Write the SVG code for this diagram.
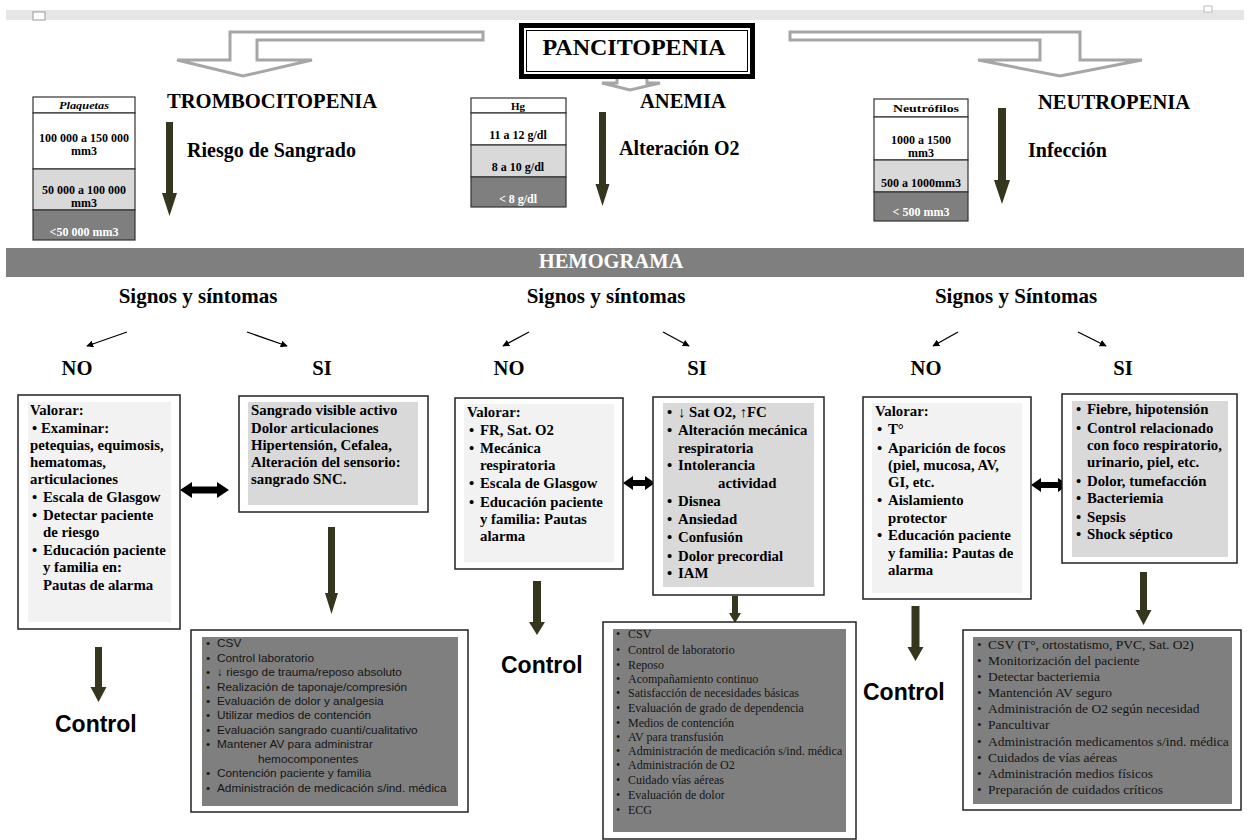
<svg xmlns="http://www.w3.org/2000/svg" width="1250" height="840" viewBox="0 0 1250 840">
<style>
.s{font-family:"Liberation Serif","Times New Roman",serif;font-weight:bold;fill:#000}
.h{font-size:20.6px}
.sub{font-size:20px}
.sg{font-size:21px}
.t{font-size:12px;text-anchor:middle}
.th{font-size:11px;text-anchor:middle}
.it{font-style:italic}
.w{fill:#fff}
.b{font-size:14.8px}
.c{font-family:"Liberation Sans",Arial,sans-serif;font-weight:bold;font-size:23px}
.l1{font-family:"Liberation Sans",Arial,sans-serif;font-size:11.8px;fill:#151515}
.l2{font-family:"Liberation Serif","Times New Roman",serif;font-size:12px;fill:#151515}
.l3{font-family:"Liberation Serif","Times New Roman",serif;font-size:13.5px;fill:#151515}
.box{fill:#fff;stroke:#222;stroke-width:1.5}
.lf{fill:#f2f2f2}
.mf{fill:#d9d9d9}
.df{fill:#7f7f7f}
.hol{fill:#fff;stroke:#a6a6a6;stroke-width:3;stroke-linejoin:miter}
.dk{fill:#36361e}
.dbl{fill:#000}
.thin{stroke:#000;stroke-width:1.3;fill:none;marker-end:url(#ah)}
.cell{stroke:#333;stroke-width:1.2}
</style>
<defs>
<marker id="ah" viewBox="0 0 10 10" refX="9" refY="5" markerWidth="7" markerHeight="7" orient="auto" markerUnits="userSpaceOnUse"><path d="M0,0 L10,5 L0,10 Z" fill="#000"/></marker>
</defs>

<rect x="6" y="10" width="1238" height="10" fill="#e6e6e6"/>
<rect x="33" y="12" width="12" height="8" fill="#fff" stroke="#999" stroke-width="1"/>
<rect x="1204" y="6" width="8" height="6" fill="#fff" stroke="#bbb" stroke-width="1"/>

<g id="connectors">
<path class="hol" d="M483,32 L230,32 L230,60 L177,60 L243,76 L312,60 L257,60 L257,40 L483,40 Z"/>
<path class="hol" d="M790,32 L1080,32 L1080,60 L1142,60 L1060,76 L978,60 L1040,60 L1040,40 L790,40 Z"/>
<path class="hol" d="M617,72 L647,72 L647,83 L660,83 L630,90 L602,83 L617,83 Z"/>
<path class="dk" d="M166,122 L173,122 L173,193 L177,193 L169.5,216 L162,193 L166,193 Z"/>
<path class="dk" d="M599,112 L606,112 L606,184 L609.5,184 L602.5,206 L595.5,184 L599,184 Z"/>
<path class="dk" d="M998,108 L1006,108 L1006,180 L1010,180 L1002,204 L994,180 L998,180 Z"/>
<line class="thin" x1="127" y1="332" x2="87" y2="346"/>
<line class="thin" x1="247" y1="332" x2="287" y2="346"/>
<line class="thin" x1="529" y1="332" x2="503" y2="346"/>
<line class="thin" x1="663" y1="332" x2="689" y2="346"/>
<line class="thin" x1="958" y1="332" x2="933" y2="346"/>
<line class="thin" x1="1078" y1="332" x2="1106" y2="346"/>
<path class="dbl" d="M180,490 L192,482 L192,486.5 L217,486.5 L217,482 L229,490 L217,498 L217,493.5 L192,493.5 L192,498 Z"/>
<path class="dbl" d="M623,483 L633,476 L633,480 L645,480 L645,476 L655,483 L645,490 L645,486 L633,486 L633,490 Z"/>
<path class="dbl" d="M1031,485 L1041,478 L1041,482 L1058,482 L1058,478 L1068,485 L1058,492 L1058,488 L1041,488 L1041,492 Z"/>
<path class="dk" d="M328,527 L335,527 L335,593 L338,593 L331.5,614 L325,593 L328,593 Z"/>
<path class="dk" d="M95,647 L102,647 L102,687 L106.5,687 L98.5,702 L90.5,687 L95,687 Z"/>
<path class="dk" d="M533,581 L541,581 L541,622 L545,622 L537,635 L529,622 L533,622 Z"/>
<path class="dk" d="M732,596 L738,596 L738,613 L741,613 L735,623 L729,613 L732,613 Z"/>
<path class="dk" d="M911.5,606 L919.5,606 L919.5,647 L923.5,647 L915.5,661 L907.5,647 L911.5,647 Z"/>
<path class="dk" d="M1140,572 L1147,572 L1147,610 L1151.5,610 L1143.5,625 L1135.5,610 L1140,610 Z"/>
</g>

<g id="pancitopenia">
<rect x="521.5" y="25.5" width="231" height="51" fill="#fff" stroke="#000" stroke-width="5"/>
<rect x="526.5" y="30.5" width="221" height="41" fill="none" stroke="#000" stroke-width="1"/>
<text class="s" x="634" y="55" font-size="24" text-anchor="middle">PANCITOPENIA</text>
</g>

<g id="trombocitopenia">
<text class="s h" x="167" y="108">TROMBOCITOPENIA</text>
<text class="s sub" x="187" y="157" font-size="20.8">Riesgo de Sangrado</text>
</g>
<g id="anemia">
<text class="s h" x="640" y="108">ANEMIA</text>
<text class="s sub" x="619" y="155" font-weight="normal">Alteración O2</text>
</g>
<g id="neutropenia">
<text class="s h" x="1038" y="109">NEUTROPENIA</text>
<text class="s sub" x="1028" y="157">Infección</text>
</g>

<g id="tabla-plaquetas">
<rect class="cell" x="33" y="97" width="102" height="16" fill="#fff"/>
<rect class="cell" x="33" y="113" width="102" height="56" fill="#fff"/>
<rect class="cell" x="33" y="169" width="102" height="41" fill="#d9d9d9"/>
<rect class="cell" x="33" y="210" width="102" height="30" fill="#7f7f7f"/>
<text class="s th it" x="84" y="109" textLength="50" lengthAdjust="spacingAndGlyphs">Plaquetas</text>
<text class="s t" x="84" y="142">100 000 a 150 000</text>
<text class="s t" x="84" y="155">mm3</text>
<text class="s t" x="84" y="194">50 000 a 100 000</text>
<text class="s t" x="84" y="207">mm3</text>
<text class="s t w" x="84" y="236">&lt;50 000 mm3</text>
</g>
<g id="tabla-hg">
<rect class="cell" x="471" y="98" width="95" height="15" fill="#fff"/>
<rect class="cell" x="471" y="113" width="95" height="32" fill="#fff"/>
<rect class="cell" x="471" y="145" width="95" height="32" fill="#d9d9d9"/>
<rect class="cell" x="471" y="177" width="95" height="30" fill="#7f7f7f"/>
<text class="s th" x="518" y="110">Hg</text>
<text class="s t" x="518" y="139">11 a 12 g/dl</text>
<text class="s t" x="518" y="171">8 a 10 g/dl</text>
<text class="s t w" x="518" y="203">&lt; 8 g/dl</text>
</g>
<g id="tabla-neutrofilos">
<rect class="cell" x="874" y="99" width="94" height="18" fill="#fff"/>
<rect class="cell" x="874" y="117" width="94" height="43" fill="#fff"/>
<rect class="cell" x="874" y="160" width="94" height="32" fill="#d9d9d9"/>
<rect class="cell" x="874" y="192" width="94" height="29" fill="#7f7f7f"/>
<text class="s th" x="926" y="112" textLength="66" lengthAdjust="spacingAndGlyphs">Neutrófilos</text>
<text class="s t" x="921" y="144">1000 a 1500</text>
<text class="s t" x="921" y="157">mm3</text>
<text class="s t" x="921" y="187">500 a 1000mm3</text>
<text class="s t w" x="921" y="216">&lt; 500 mm3</text>
</g>

<g id="hemograma">
<rect x="6" y="248" width="1238" height="29" fill="#7f7f7f"/>
<text class="s w" x="611" y="268" font-size="20.5" text-anchor="middle">HEMOGRAMA</text>
</g>

<g id="signos">
<text class="s sg" x="198" y="303" text-anchor="middle">Signos y síntomas</text>
<text class="s sg" x="606" y="303" text-anchor="middle">Signos y síntomas</text>
<text class="s sg" x="1016" y="303" text-anchor="middle">Signos y Síntomas</text>
<text class="s h" x="77" y="375" text-anchor="middle">NO</text>
<text class="s h" x="322" y="375" text-anchor="middle">SI</text>
<text class="s h" x="509" y="375" text-anchor="middle">NO</text>
<text class="s h" x="697" y="375" text-anchor="middle">SI</text>
<text class="s h" x="926" y="375" text-anchor="middle">NO</text>
<text class="s h" x="1123" y="375" text-anchor="middle">SI</text>
</g>

<g id="no-trombo">
<rect class="box" x="18" y="395" width="162" height="234"/>
<rect class="lf" x="28" y="402" width="143" height="220"/>
<text class="s b" x="30" y="415">Valorar:</text>
<text class="s b" x="32" y="433">• Examinar:</text>
<text class="s b" x="30" y="450">petequias, equimosis,</text>
<text class="s b" x="30" y="467">hematomas,</text>
<text class="s b" x="30" y="484">articulaciones</text>
<text class="s b" x="32" y="502">•</text><text class="s b" x="43" y="502">Escala de Glasgow</text>
<text class="s b" x="32" y="520">•</text><text class="s b" x="43" y="520">Detectar paciente</text>
<text class="s b" x="43" y="537">de riesgo</text>
<text class="s b" x="32" y="555">•</text><text class="s b" x="43" y="555">Educación paciente</text>
<text class="s b" x="43" y="572">y familia en:</text>
<text class="s b" x="43" y="590">Pautas de alarma</text>
</g>

<g id="si-trombo">
<rect class="box" x="239" y="396" width="189" height="116"/>
<rect class="mf" x="248" y="402" width="170" height="103"/>
<text class="s b" x="251" y="415">Sangrado visible activo</text>
<text class="s b" x="251" y="433">Dolor articulaciones</text>
<text class="s b" x="251" y="450">Hipertensión, Cefalea,</text>
<text class="s b" x="251" y="467">Alteración del sensorio:</text>
<text class="s b" x="251" y="484">sangrado SNC.</text>
</g>

<g id="no-anemia">
<rect class="box" x="455" y="398" width="168" height="171"/>
<rect class="lf" x="464" y="404" width="150" height="158"/>
<text class="s b" x="467" y="417">Valorar:</text>
<text class="s b" x="469" y="435">•</text><text class="s b" x="480" y="435">FR, Sat. O2</text>
<text class="s b" x="469" y="453">•</text><text class="s b" x="480" y="453">Mecánica</text>
<text class="s b" x="480" y="470">respiratoria</text>
<text class="s b" x="469" y="488">•</text><text class="s b" x="480" y="488">Escala de Glasgow</text>
<text class="s b" x="469" y="507">•</text><text class="s b" x="480" y="507">Educación paciente</text>
<text class="s b" x="480" y="524">y familia: Pautas</text>
<text class="s b" x="480" y="541">alarma</text>
</g>

<g id="si-anemia">
<rect class="box" x="653" y="397" width="171" height="198"/>
<rect class="mf" x="663" y="403" width="151" height="184"/>
<text class="s b" x="667" y="417">•</text><text class="s b" x="678" y="417">↓ Sat O2, ↑FC</text>
<text class="s b" x="667" y="435">•</text><text class="s b" x="678" y="435">Alteración mecánica</text>
<text class="s b" x="678" y="453">respiratoria</text>
<text class="s b" x="667" y="470">•</text><text class="s b" x="678" y="470">Intolerancia</text>
<text class="s b" x="718" y="488">actividad</text>
<text class="s b" x="667" y="506">•</text><text class="s b" x="678" y="506">Disnea</text>
<text class="s b" x="667" y="524">•</text><text class="s b" x="678" y="524">Ansiedad</text>
<text class="s b" x="667" y="542">•</text><text class="s b" x="678" y="542">Confusión</text>
<text class="s b" x="667" y="561">•</text><text class="s b" x="678" y="561">Dolor precordial</text>
<text class="s b" x="667" y="578">•</text><text class="s b" x="678" y="578">IAM</text>
</g>

<g id="no-neutro">
<rect class="box" x="863" y="397" width="168" height="202"/>
<rect class="lf" x="872" y="403" width="150" height="190"/>
<text class="s b" x="875" y="416">Valorar:</text>
<text class="s b" x="877" y="434">•</text><text class="s b" x="888" y="434">T°</text>
<text class="s b" x="877" y="453">•</text><text class="s b" x="888" y="453">Aparición de focos</text>
<text class="s b" x="888" y="470">(piel, mucosa, AV,</text>
<text class="s b" x="888" y="487">GI, etc.</text>
<text class="s b" x="877" y="505">•</text><text class="s b" x="888" y="505">Aislamiento</text>
<text class="s b" x="888" y="523">protector</text>
<text class="s b" x="877" y="540">•</text><text class="s b" x="888" y="540">Educación paciente</text>
<text class="s b" x="888" y="558">y familia: Pautas de</text>
<text class="s b" x="888" y="575">alarma</text>
</g>

<g id="si-neutro">
<rect class="box" x="1062" y="394" width="175" height="169"/>
<rect class="mf" x="1072" y="401" width="156" height="156"/>
<text class="s b" x="1076" y="414">•</text><text class="s b" x="1087" y="414">Fiebre, hipotensión</text>
<text class="s b" x="1076" y="433">•</text><text class="s b" x="1087" y="433">Control relacionado</text>
<text class="s b" x="1087" y="450">con foco respiratorio,</text>
<text class="s b" x="1087" y="467">urinario, piel, etc.</text>
<text class="s b" x="1076" y="486">•</text><text class="s b" x="1087" y="486">Dolor, tumefacción</text>
<text class="s b" x="1076" y="503">•</text><text class="s b" x="1087" y="503">Bacteriemia</text>
<text class="s b" x="1076" y="522">•</text><text class="s b" x="1087" y="522">Sepsis</text>
<text class="s b" x="1076" y="539">•</text><text class="s b" x="1087" y="539">Shock séptico</text>
</g>

<g id="control-1"><text class="c" x="55" y="732">Control</text></g>
<g id="control-2"><text class="c" x="501" y="673">Control</text></g>
<g id="control-3"><text class="c" x="863" y="700">Control</text></g>

<g id="cuidados-trombo">
<rect class="box" x="191" y="630" width="277" height="182"/>
<rect class="df" x="202" y="637" width="256" height="169"/>
<g class="l1">
<text x="206" y="647">•</text><text x="217" y="647">CSV</text>
<text x="206" y="662">•</text><text x="217" y="662">Control laboratorio</text>
<text x="206" y="676">•</text><text x="217" y="676">↓ riesgo de trauma/reposo absoluto</text>
<text x="206" y="691">•</text><text x="217" y="691">Realización de taponaje/compresión</text>
<text x="206" y="705">•</text><text x="217" y="705">Evaluación de dolor y analgesia</text>
<text x="206" y="719">•</text><text x="217" y="719">Utilizar medios de contención</text>
<text x="206" y="734">•</text><text x="217" y="734">Evaluación sangrado cuanti/cualitativo</text>
<text x="206" y="748">•</text><text x="217" y="748">Mantener AV para administrar</text>
<text x="258" y="763">hemocomponentes</text>
<text x="206" y="777">•</text><text x="217" y="777">Contención paciente y familia</text>
<text x="206" y="792">•</text><text x="217" y="792">Administración de medicación s/ind. médica</text>
</g>
</g>

<g id="cuidados-anemia">
<rect class="box" x="603" y="622" width="253" height="217"/>
<rect class="df" x="613" y="629" width="233" height="203"/>
<g class="l2">
<text x="616" y="638">•</text><text x="628" y="638">CSV</text>
<text x="616" y="654">•</text><text x="628" y="654">Control de laboratorio</text>
<text x="616" y="669">•</text><text x="628" y="669">Reposo</text>
<text x="616" y="683">•</text><text x="628" y="683">Acompañamiento continuo</text>
<text x="616" y="697">•</text><text x="628" y="697">Satisfacción de necesidades básicas</text>
<text x="616" y="712">•</text><text x="628" y="712">Evaluación de grado de dependencia</text>
<text x="616" y="727">•</text><text x="628" y="727">Medios de contención</text>
<text x="616" y="741">•</text><text x="628" y="741">AV para transfusión</text>
<text x="616" y="755">•</text><text x="628" y="755">Administración de medicación s/ind. médica</text>
<text x="616" y="769">•</text><text x="628" y="769">Administración de O2</text>
<text x="616" y="784">•</text><text x="628" y="784">Cuidado vías aéreas</text>
<text x="616" y="799">•</text><text x="628" y="799">Evaluación de dolor</text>
<text x="616" y="814">•</text><text x="628" y="814">ECG</text>
</g>
</g>

<g id="cuidados-neutro">
<rect class="box" x="963" y="630" width="278" height="180"/>
<rect class="df" x="973" y="637" width="259" height="167"/>
<g class="l3">
<text x="977" y="649">•</text><text x="988" y="649">CSV (T°, ortostatismo, PVC, Sat. O2)</text>
<text x="977" y="665">•</text><text x="988" y="665">Monitorización del paciente</text>
<text x="977" y="681">•</text><text x="988" y="681">Detectar bacteriemia</text>
<text x="977" y="697">•</text><text x="988" y="697">Mantención AV seguro</text>
<text x="977" y="713">•</text><text x="988" y="713">Administración de O2 según necesidad</text>
<text x="977" y="729">•</text><text x="988" y="729">Pancultivar</text>
<text x="977" y="746">•</text><text x="988" y="746">Administración medicamentos s/ind. médica</text>
<text x="977" y="762">•</text><text x="988" y="762">Cuidados de vías aéreas</text>
<text x="977" y="778">•</text><text x="988" y="778">Administración medios físicos</text>
<text x="977" y="794">•</text><text x="988" y="794">Preparación de cuidados críticos</text>
</g>
</g>
</svg>
